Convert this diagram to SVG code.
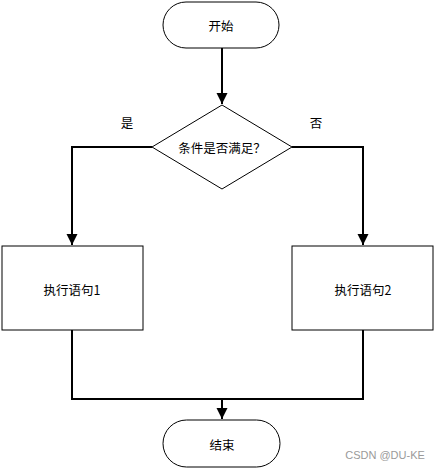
<svg xmlns="http://www.w3.org/2000/svg" width="435" height="469" viewBox="0 0 435 469">
<style>
.shape{fill:#fff;stroke:#000;stroke-width:1}
.conn{fill:none;stroke:#000;stroke-width:2}
text{font-family:"Noto Sans CJK SC","Liberation Sans",sans-serif;font-size:12.5px;fill:#000;text-anchor:middle;dominant-baseline:central}
.wm{font-family:"Liberation Sans",sans-serif;font-size:11px;fill:#9a9a9a}
</style>
<defs>
<marker id="arr" markerUnits="userSpaceOnUse" markerWidth="12" markerHeight="12" viewBox="0 0 12 12" refX="11" refY="6" orient="auto">
<path d="M0,0.5 L11,6 L0,11.5 Z" fill="#000"/>
</marker>
</defs>
<rect width="435" height="469" fill="#fff"/>
<g id="connectors">
<path class="conn" d="M222,48 V104" marker-end="url(#arr)"/>
<path class="conn" d="M152,147 H72 V245" marker-end="url(#arr)"/>
<path class="conn" d="M292,147 H363 V245" marker-end="url(#arr)"/>
<path class="conn" d="M72,330 V399 H363 V330"/>
<path class="conn" d="M222,399 V419" marker-end="url(#arr)"/>
</g>
<g id="start">
<rect class="shape" x="163" y="2" width="116" height="46" rx="23"/>
<text x="221" y="25">开始</text>
</g>
<g id="cond">
<polygon class="shape" points="222,105 292,147 222,189 152,147"/>
<text x="222" y="147">条件是否满足？</text>
</g>
<g id="label-yes"><text x="127" y="122">是</text></g>
<g id="label-no"><text x="316" y="122">否</text></g>
<g id="stmt1">
<rect class="shape" x="2" y="246" width="141" height="84"/>
<text x="72" y="289">执行语句1</text>
</g>
<g id="stmt2">
<rect class="shape" x="292" y="246" width="141" height="84"/>
<text x="363" y="289">执行语句2</text>
</g>
<g id="end">
<rect class="shape" x="163" y="420" width="117" height="47" rx="23.5"/>
<text x="222" y="444">结束</text>
</g>
<text class="wm" x="385" y="455">CSDN @DU-KE</text>
</svg>
